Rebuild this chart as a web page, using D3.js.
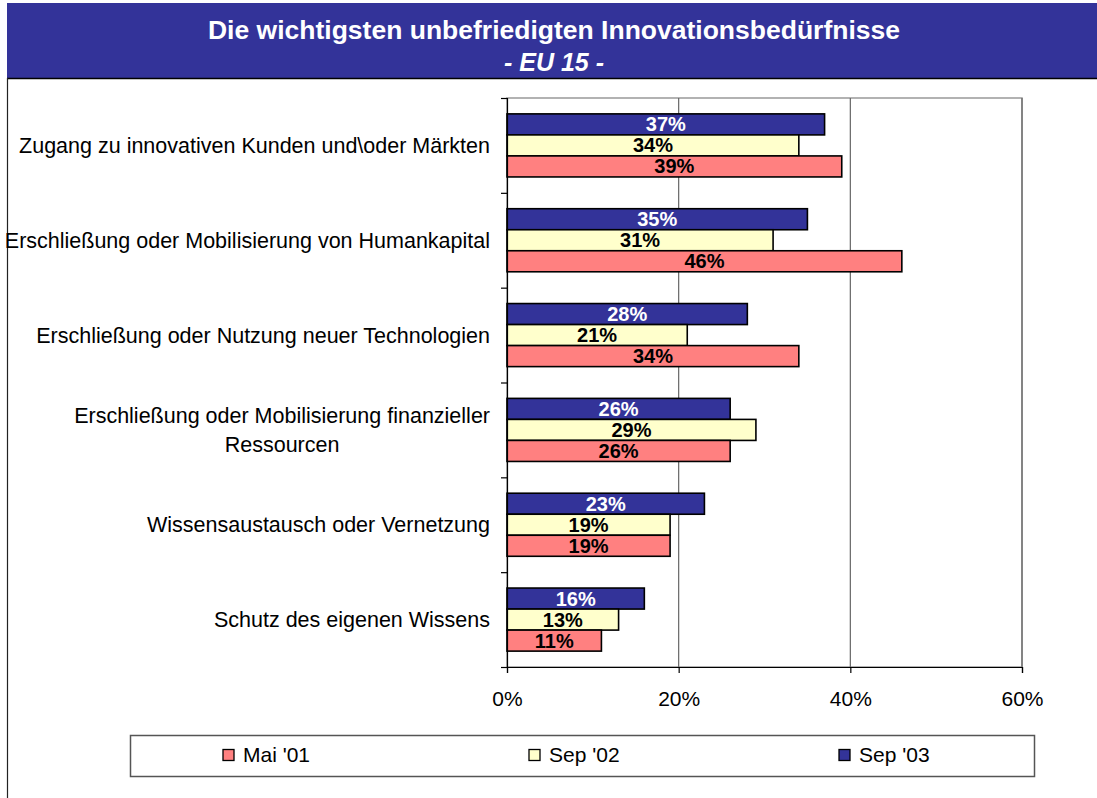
<!DOCTYPE html>
<html>
<head>
<meta charset="utf-8">
<script src="https://cdn.jsdelivr.net/npm/d3@7"></script>
<style>
  body { margin: 0; background: #fff; }
  text { font-family: Arial, "Liberation Sans", sans-serif; }
</style>
</head>
<body>
<div id="chart"></div>
<script>
// chart data
var categories = [
  ["Zugang zu innovativen Kunden und\\oder Märkten"],
  ["Erschließung oder Mobilisierung von Humankapital"],
  ["Erschließung oder Nutzung neuer Technologien"],
  ["Erschließung oder Mobilisierung finanzieller", "Ressourcen"],
  ["Wissensaustausch oder Vernetzung"],
  ["Schutz des eigenen Wissens"]
];
var seriesNames = ["Sep '03", "Sep '02", "Mai '01"];
var sep03 = [37, 35, 28, 26, 23, 16];
var sep02 = [34, 31, 21, 29, 19, 13];
var mai01 = [39, 46, 34, 26, 19, 11];
var xTicks = [0, 20, 40, 60];
var legendOrder = ["Mai '01", "Sep '02", "Sep '03"];

var colors = {"Sep '03": "#333399", "Sep '02": "#FFFFCC", "Mai '01": "#FF8080"};
var labelColors = {"Sep '03": "#fff", "Sep '02": "#000", "Mai '01": "#000"};
var values = {"Sep '03": sep03, "Sep '02": sep02, "Mai '01": mai01};

var svg = d3.select("#chart").append("svg")
  .attr("width", 1097)
  .attr("height", 798);

// title band
svg.append("rect")
  .attr("x", 7).attr("y", 3)
  .attr("width", 1090).attr("height", 75)
  .attr("fill", "#333399");
svg.append("line")
  .attr("x1", 7).attr("x2", 1097).attr("y1", 78.5).attr("y2", 78.5)
  .attr("stroke", "#000").attr("stroke-width", 1.5);
svg.append("line")
  .attr("x1", 7.5).attr("x2", 7.5).attr("y1", 78).attr("y2", 798)
  .attr("stroke", "#222").attr("stroke-width", 1.2);
svg.append("text")
  .attr("x", 554).attr("y", 39)
  .attr("text-anchor", "middle")
  .attr("fill", "#fff").attr("font-size", 26.5).attr("font-weight", "bold")
  .text("Die wichtigsten unbefriedigten Innovationsbedürfnisse");
svg.append("text")
  .attr("x", 554).attr("y", 71)
  .attr("text-anchor", "middle")
  .attr("fill", "#fff").attr("font-size", 25).attr("font-weight", "bold")
  .attr("font-style", "italic")
  .text("- EU 15 -");

var x = d3.scaleLinear().domain([0, 60]).range([507, 1022]);
var y0 = d3.scaleBand().domain(d3.range(categories.length)).range([98, 667])
  .paddingInner(0.335).paddingOuter(0.1675);
var y1 = d3.scaleBand().domain(seriesNames).range([0, y0.bandwidth()]);

// plot area frame + gridlines
svg.append("rect")
  .attr("x", x(0)).attr("y", 98)
  .attr("width", x(60) - x(0)).attr("height", 667 - 98)
  .attr("fill", "none").attr("stroke", "#999").attr("stroke-width", 1.5);
svg.selectAll(".grid").data(xTicks.slice(1))
  .enter().append("line")
  .attr("x1", function(d) { return x(d); })
  .attr("x2", function(d) { return x(d); })
  .attr("y1", 98).attr("y2", 667)
  .attr("stroke", "#666").attr("stroke-width", 1.2);

// bars
categories.forEach(function(c, i) {
  seriesNames.forEach(function(s) {
    var v = values[s][i];
    var yy = y0(i) + y1(s);
    svg.append("rect")
      .attr("x", x(0)).attr("y", yy)
      .attr("width", x(v) - x(0)).attr("height", y1.bandwidth())
      .attr("fill", colors[s]).attr("stroke", "#000").attr("stroke-width", 1.6);
    svg.append("text")
      .attr("x", (x(0) + x(v)) / 2)
      .attr("y", yy + y1.bandwidth() / 2 + 7)
      .attr("text-anchor", "middle")
      .attr("font-size", 20).attr("font-weight", "bold")
      .attr("fill", labelColors[s])
      .text(v + "%");
  });
});

// y axis with ticks at category boundaries
var yTickScale = d3.scaleLinear().domain([0, categories.length]).range([98, 667]);
svg.append("g")
  .attr("transform", "translate(" + x(0) + ",0)")
  .call(d3.axisLeft(yTickScale).ticks(6).tickSize(6).tickFormat(""))
  .call(function(g) { g.selectAll("path,line").attr("stroke", "#000").attr("stroke-width", 1.2); });

// x axis
svg.append("g")
  .attr("transform", "translate(0,667)")
  .call(d3.axisBottom(x).tickValues(xTicks).tickSize(6).tickPadding(0)
    .tickFormat(function(d) { return d + "%"; }))
  .call(function(g) {
    g.selectAll("path,line").attr("stroke", "#000").attr("stroke-width", 1.2);
    g.selectAll("text").attr("font-size", 21).attr("fill", "#000")
      .attr("dy", null).attr("y", 39)
      .attr("font-family", "Arial, 'Liberation Sans', sans-serif");
  });

// category labels
categories.forEach(function(lines, i) {
  var cy = y0(i) + y0.bandwidth() / 2;
  var t = svg.append("text")
    .attr("text-anchor", "middle")
    .attr("font-size", 21.5).attr("fill", "#000");
  var lh = 29;
  lines.forEach(function(l, j) {
    t.append("tspan")
      .attr("x", 0)
      .attr("y", cy + 7.5 + (j - (lines.length - 1) / 2) * lh)
      .text(l);
  });
  var w = t.node().getBBox().width;
  t.attr("transform", "translate(" + (490 - w / 2) + ",0)");
});

// legend
svg.append("rect")
  .attr("x", 130.5).attr("y", 735.5)
  .attr("width", 904).attr("height", 41)
  .attr("fill", "#fff").attr("stroke", "#555").attr("stroke-width", 1.5);
var legendX = [223, 529, 839];
legendOrder.forEach(function(s, i) {
  svg.append("rect")
    .attr("x", legendX[i]).attr("y", 749.5)
    .attr("width", 11).attr("height", 11)
    .attr("fill", colors[s]).attr("stroke", "#000").attr("stroke-width", 1.3);
  svg.append("text")
    .attr("x", legendX[i] + 20).attr("y", 762)
    .attr("font-size", 21).attr("fill", "#000")
    .text(s);
});
</script>
</body>
</html>
